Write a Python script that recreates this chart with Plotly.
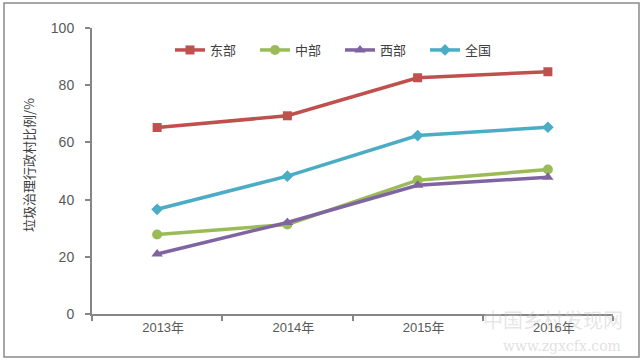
import plotly.graph_objects as go

years = ["2013年", "2014年", "2015年", "2016年"]
east = [65.2, 69.3, 82.6, 84.7]
central = [27.8, 31.3, 46.8, 50.5]
west = [21.0, 32.0, 45.0, 47.8]
national = [36.6, 48.2, 62.4, 65.3]
y_ticks = [0, 20, 40, 60, 80, 100]

series = [
    ("东部", east, "#C0504D", "square", 9),
    ("中部", central, "#9BBB59", "circle", 10),
    ("西部", west, "#8064A2", "triangle-up", 10),
    ("全国", national, "#4BACC6", "diamond", 9),
]

W, H = 643, 364
L, R, T, B = 92, 30, 28, 50
pw, ph = W - L - R, H - T - B

def px(x):
    return (x - L) / pw

def py(y):
    return (H - B - y) / ph

fig = go.Figure()
for name, vals, color, sym, size in series:
    fig.add_trace(go.Scatter(
        x=years, y=vals, name=name, mode="lines+markers",
        line=dict(color=color, width=3.5),
        marker=dict(symbol=sym, size=size, color=color),
    ))

font_family = "Liberation Sans, Arial, Noto Sans CJK SC"
fig.update_layout(
    width=W, height=H,
    margin=dict(l=L, r=R, t=T, b=B, autoexpand=False),
    paper_bgcolor="white", plot_bgcolor="white",
    font=dict(family=font_family, size=13, color="#595959"),
    showlegend=True,
    legend=dict(
        orientation="h", x=px(170), y=py(50), xanchor="left", yanchor="middle",
        font=dict(size=13, color="#404040", family="Noto Sans CJK SC"),
        bgcolor="rgba(0,0,0,0)", entrywidth=40, entrywidthmode="pixels",
    ),
    xaxis=dict(
        type="category", range=[-0.5, 3.5], showgrid=False,
        showline=True, linecolor="#868686", linewidth=2,
        ticks="outside", ticklen=5, tickcolor="#868686", tickwidth=1.5,
        tickson="boundaries", ticklabelshift=6,
        tickfont=dict(size=13, color="#595959"),
        zeroline=False,
    ),
    yaxis=dict(
        range=[0, 100], tickvals=y_ticks, showgrid=False,
        showline=True, linecolor="#868686", linewidth=2,
        ticks="outside", ticklen=5, tickcolor="#868686", tickwidth=1.5,
        ticklabelstandoff=8,
        tickfont=dict(size=14, color="#595959"),
        zeroline=False,
    ),
    annotations=[
        dict(text="垃圾治理行政村比例/%", xref="paper", yref="paper",
             x=px(28), y=py(165), textangle=-90, showarrow=False,
             xanchor="center", yanchor="middle",
             font=dict(size=13, color="#404040", family="Noto Sans CJK SC")),
        dict(text="中国乡村发现网", xref="paper", yref="paper",
             x=px(553), y=py(319), showarrow=False, xanchor="center", yanchor="middle",
             font=dict(size=20, color="rgba(200,200,200,0.45)", family="Noto Sans CJK SC")),
        dict(text="www.zgxcfx.com", xref="paper", yref="paper",
             x=px(562), y=py(346), showarrow=False, xanchor="center", yanchor="middle",
             font=dict(size=14, color="rgba(200,200,200,0.55)", family="DejaVu Serif")),
    ],
    shapes=[
        dict(type="rect", xref="paper", yref="paper",
             x0=px(4), x1=px(639), y0=py(357), y1=py(3),
             line=dict(color="#8a8a8a", width=1.5), layer="below"),
    ],
)

fig.write_html("out.html", config={"displayModeBar": False},
               post_script="document.body.style.margin='0';document.body.style.padding='0';")
